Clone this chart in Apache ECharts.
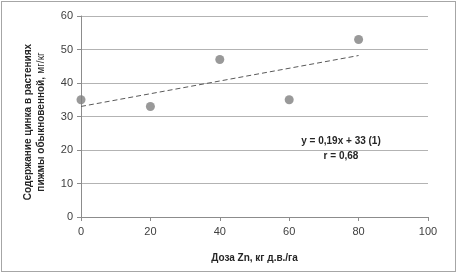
<!DOCTYPE html>
<html>
<head>
<meta charset="utf-8">
<script src="https://cdn.jsdelivr.net/npm/echarts@6/dist/echarts.min.js"></script>
<style>
  html, body { margin: 0; padding: 0; background: #fff; }
  #chart { position: absolute; left: 0; top: 0; width: 457px; height: 276px; }
  #wrap { position: absolute; left: 1px; top: 1px; width: 453px; height: 269px; border: 1px solid #a6a6a6; pointer-events: none; }
</style>
</head>
<body>
<div id="chart"></div>
<div id="wrap"></div>
<script>
// доза Zn и содержание цинка
var doses = [0, 20, 40, 60, 80];
var zinc = [35, 33, 47, 35, 53];
// линия тренда y = 0,19x + 33
var trendX = [0, 80];
var trendY = [33, 48.2];

var dom = document.getElementById('chart');
var myChart = echarts.init(dom);
var fontFam = 'Arial, "Liberation Sans", sans-serif';
var narrow = '"Liberation Sans Narrow", "Arial Narrow", "Liberation Sans", sans-serif';

var option = {
    animation: false,
    backgroundColor: 'transparent',
    grid: { left: 81, right: 29, top: 16, bottom: 59 },
    xAxis: {
        type: 'value',
        min: 0, max: 100, interval: 20,
        axisLine: { lineStyle: { color: '#8c8c8c' } },
        axisTick: { show: true, length: 4, lineStyle: { color: '#8c8c8c' } },
        axisLabel: { color: '#404040', fontSize: 11, fontFamily: fontFam, margin: 9 },
        splitLine: { show: false },
        name: 'Доза Zn, кг д.в./га',
        nameLocation: 'middle',
        nameGap: 36,
        nameTextStyle: { color: '#262626', fontSize: 10, fontWeight: 'bold', fontFamily: fontFam }
    },
    yAxis: {
        type: 'value',
        min: 0, max: 60, interval: 10,
        axisLine: { show: true, lineStyle: { color: '#8c8c8c' } },
        axisTick: { show: true, length: 4, lineStyle: { color: '#8c8c8c' } },
        axisLabel: { color: '#404040', fontSize: 11, fontFamily: fontFam, margin: 8 },
        splitLine: { lineStyle: { color: '#b3b3b3' } }
    },
    graphic: [
        {
            type: 'text',
            rotation: Math.PI / 2,
            x: 35, y: 122,
            style: {
                text: '{b|Содержание цинка в растениях}\n{b|пижмы обыкновенной,} {n|мг/кг}',
                align: 'center',
                verticalAlign: 'middle',
                rich: {
                    b: { fontSize: 10, fontWeight: 'bold', fontFamily: narrow, fill: '#262626', lineHeight: 13 },
                    n: { fontSize: 10, fontFamily: narrow, fill: '#262626', lineHeight: 13 }
                }
            }
        },
        {
            type: 'text',
            x: 341, y: 149,
            style: {
                text: 'y = 0,19x + 33 (1)\nr = 0,68',
                align: 'center', verticalAlign: 'middle',
                fontSize: 10, fontWeight: 'bold', fontFamily: fontFam,
                fill: '#262626', lineHeight: 15
            }
        }
    ],
    series: [
        {
            type: 'scatter',
            data: doses.map(function (d, i) { return [d, zinc[i]]; }),
            symbolSize: 9,
            itemStyle: { color: '#808080' },
            z: 3
        },
        {
            type: 'line',
            data: trendX.map(function (d, i) { return [d, trendY[i]]; }),
            symbol: 'none',
            lineStyle: { color: '#595959', width: 1, type: [5, 3] },
            z: 2
        }
    ]
};
myChart.setOption(option);
</script>
</body>
</html>
